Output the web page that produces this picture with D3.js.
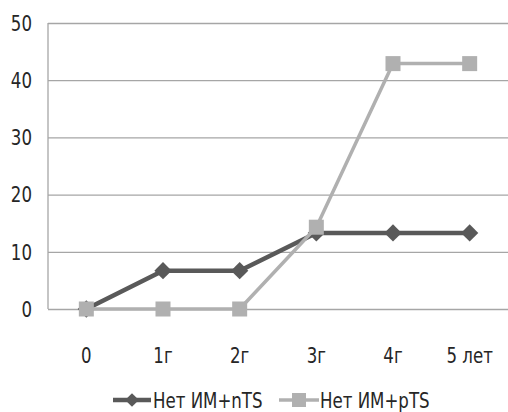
<!DOCTYPE html>
<html>
<head>
<meta charset="utf-8">
<script src="https://cdn.jsdelivr.net/npm/d3@7"></script>
<style>
  body { margin: 0; background: #fff; }
  svg { display: block; font-family: "Liberation Sans Narrow", "DejaVu Sans Condensed", sans-serif; }
</style>
</head>
<body>
<div id="chart"></div>
<script>
const categories = ["0", "1г", "2г", "3г", "4г", "5 лет"];
const seriesNames = ["Нет ИМ+nTS", "Нет ИМ+pTS"];
const nTS = [0, 6.7, 6.7, 13.3, 13.3, 13.3];
const pTS = [0, 0, 0, 14.3, 42.9, 42.9];
const yTicks = [0, 10, 20, 30, 40, 50];

const W = 508, H = 412;
const margin = { top: 23, right: 0, bottom: 103, left: 48 };
const width = W - margin.left - margin.right;
const height = H - margin.top - margin.bottom;
const FS = 22, SX = 0.84; // tall, narrow text like the original

const svg = d3.select("#chart").append("svg")
  .attr("width", W).attr("height", H);
const g = svg.append("g").attr("transform", `translate(${margin.left},${margin.top})`);

const x = d3.scaleBand().domain(categories).range([0, width]);
const y = d3.scaleLinear().domain([0, 50]).range([height, 0]);
const cx = c => x(c) + x.bandwidth() / 2;

// narrow text helper
function label(sel, px, py, txt, anchor) {
  sel.append("text")
    .attr("transform", `translate(${px},${py}) scale(${SX},1)`)
    .attr("dy", "0.35em").attr("text-anchor", anchor)
    .attr("font-size", FS).attr("fill", "#262626").text(txt);
}

// gridlines
g.append("g")
  .call(d3.axisLeft(y).tickValues(yTicks).tickSize(-width).tickFormat(""))
  .call(s => s.select(".domain").remove())
  .selectAll("line").attr("stroke", "#a6a6a6").attr("stroke-width", 1.3);

// y axis line + labels
g.append("line").attr("x1", 0).attr("x2", 0).attr("y1", 0).attr("y2", height)
  .attr("stroke", "#a6a6a6").attr("stroke-width", 1.3);
yTicks.forEach(d => label(g, -16, y(d), d, "end"));

// x labels
categories.forEach(c => label(g, cx(c), height + 46, c, "middle"));

const line = d3.line().x((d, i) => cx(categories[i])).y(d => y(d));
const diamond = d3.symbol().type(d3.symbolDiamond2).size(190);

// dark series
g.append("path").datum(nTS).attr("fill", "none")
  .attr("stroke", "#595959").attr("stroke-width", 4.5).attr("d", line);
g.selectAll(".dm").data(nTS).enter().append("path")
  .attr("transform", (d, i) => `translate(${cx(categories[i])},${y(d)})`)
  .attr("d", diamond).attr("fill", "#595959");

// light series
g.append("path").datum(pTS).attr("fill", "none")
  .attr("stroke", "#b0b0b0").attr("stroke-width", 3.5).attr("d", line);
g.selectAll(".sq").data(pTS).enter().append("rect")
  .attr("x", (d, i) => cx(categories[i]) - 7.5).attr("y", d => y(d) - 7.5)
  .attr("width", 15).attr("height", 15).attr("fill", "#b0b0b0");

// legend
const ly = 400;
const leg = svg.append("g");
leg.append("line").attr("x1", 113).attr("x2", 151).attr("y1", ly).attr("y2", ly)
  .attr("stroke", "#595959").attr("stroke-width", 4.5);
leg.append("path").attr("transform", `translate(132,${ly})`)
  .attr("d", d3.symbol().type(d3.symbolDiamond2).size(120)).attr("fill", "#595959");
label(leg, 153, ly, seriesNames[0], "start");

leg.append("line").attr("x1", 279).attr("x2", 319).attr("y1", ly).attr("y2", ly)
  .attr("stroke", "#b0b0b0").attr("stroke-width", 3.5);
leg.append("rect").attr("x", 292).attr("y", ly - 7).attr("width", 14).attr("height", 14)
  .attr("fill", "#b0b0b0");
label(leg, 320, ly, seriesNames[1], "start");
</script>
</body>
</html>
